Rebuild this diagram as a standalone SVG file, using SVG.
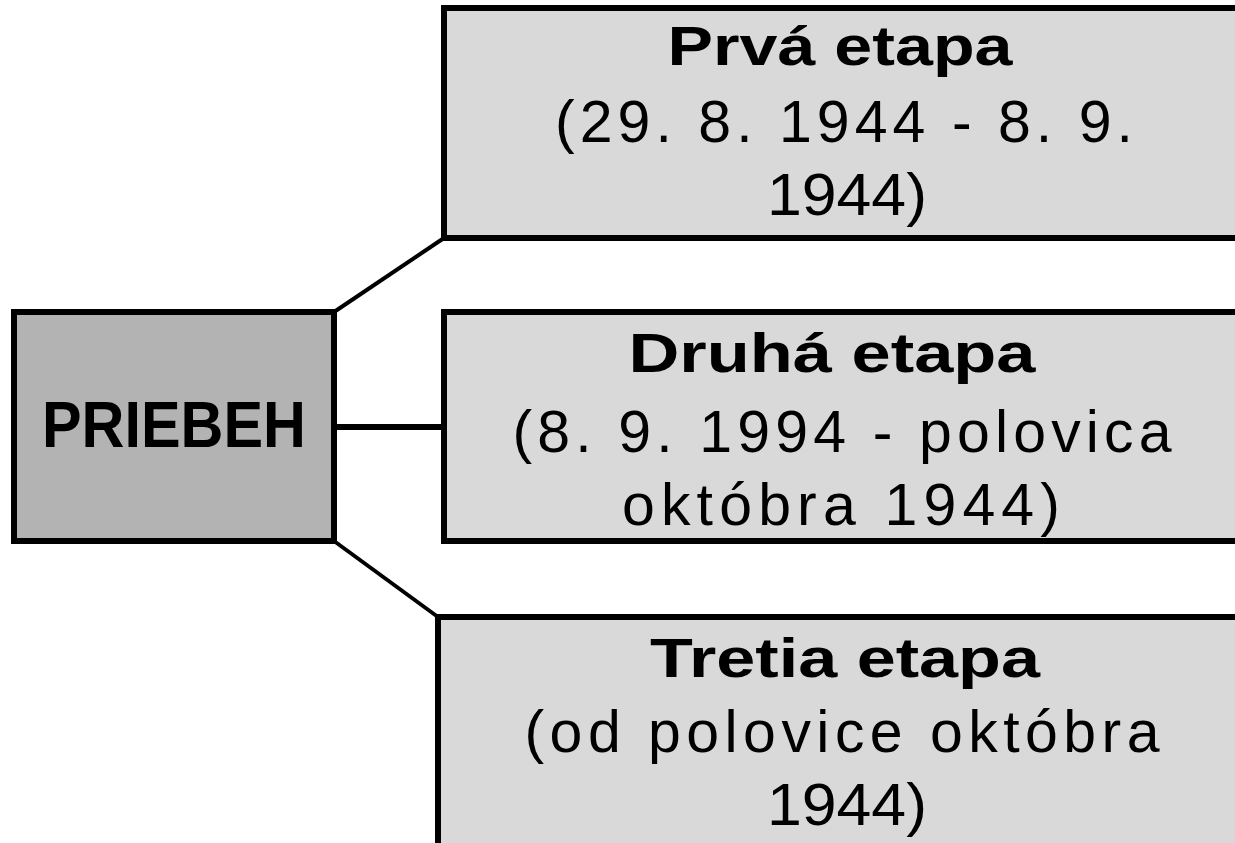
<svg xmlns="http://www.w3.org/2000/svg" width="1235" height="843" viewBox="0 0 1235 843">
<style>
.bg{fill:#ffffff}
.main{fill:#b3b3b3;stroke:#000;stroke-width:6}
.stage{fill:#d9d9d9;stroke:#000;stroke-width:6}
.conn{stroke:#000;stroke-width:4;fill:none}
.t{font-family:"Liberation Sans",Arial,sans-serif;font-size:59px;fill:#000;text-anchor:middle}
.b{font-weight:bold;font-size:56px}
</style>
<rect class="bg" x="0" y="0" width="1235" height="843"/>
<g id="connectors">
<line class="conn" x1="334" y1="312" x2="444" y2="238"/>
<line class="conn" x1="334" y1="427" x2="444" y2="427" style="stroke-width:6"/>
<line class="conn" x1="334" y1="541" x2="438" y2="617"/>
</g>
<g id="priebeh">
<rect class="main" x="14" y="312" width="320" height="229"/>
<text class="t b" x="174" y="447" style="font-size:64px" textLength="264" lengthAdjust="spacingAndGlyphs">PRIEBEH</text>
</g>
<g id="prva">
<rect class="stage" x="444" y="8" width="820" height="230"/>
<text class="t b" x="840" y="65" textLength="345" lengthAdjust="spacingAndGlyphs">Prvá etapa</text>
<text class="t" x="844" y="142" textLength="578" lengthAdjust="spacing">(29. 8. 1944 - 8. 9.</text>
<text class="t" x="847" y="215" textLength="160" lengthAdjust="spacingAndGlyphs">1944)</text>
</g>
<g id="druha">
<rect class="stage" x="444" y="312" width="820" height="229"/>
<text class="t b" x="832" y="372" textLength="407" lengthAdjust="spacingAndGlyphs">Druhá etapa</text>
<text class="t" x="842" y="452" textLength="659" lengthAdjust="spacing">(8. 9. 1994 - polovica</text>
<text class="t" x="841" y="525" textLength="438" lengthAdjust="spacing">októbra 1944)</text>
</g>
<g id="tretia">
<rect class="stage" x="438" y="617" width="826" height="240"/>
<text class="t b" x="845" y="677" textLength="390" lengthAdjust="spacingAndGlyphs">Tretia etapa</text>
<text class="t" x="842" y="752" textLength="635" lengthAdjust="spacing">(od polovice októbra</text>
<text class="t" x="847" y="825" textLength="160" lengthAdjust="spacingAndGlyphs">1944)</text>
</g>
</svg>
